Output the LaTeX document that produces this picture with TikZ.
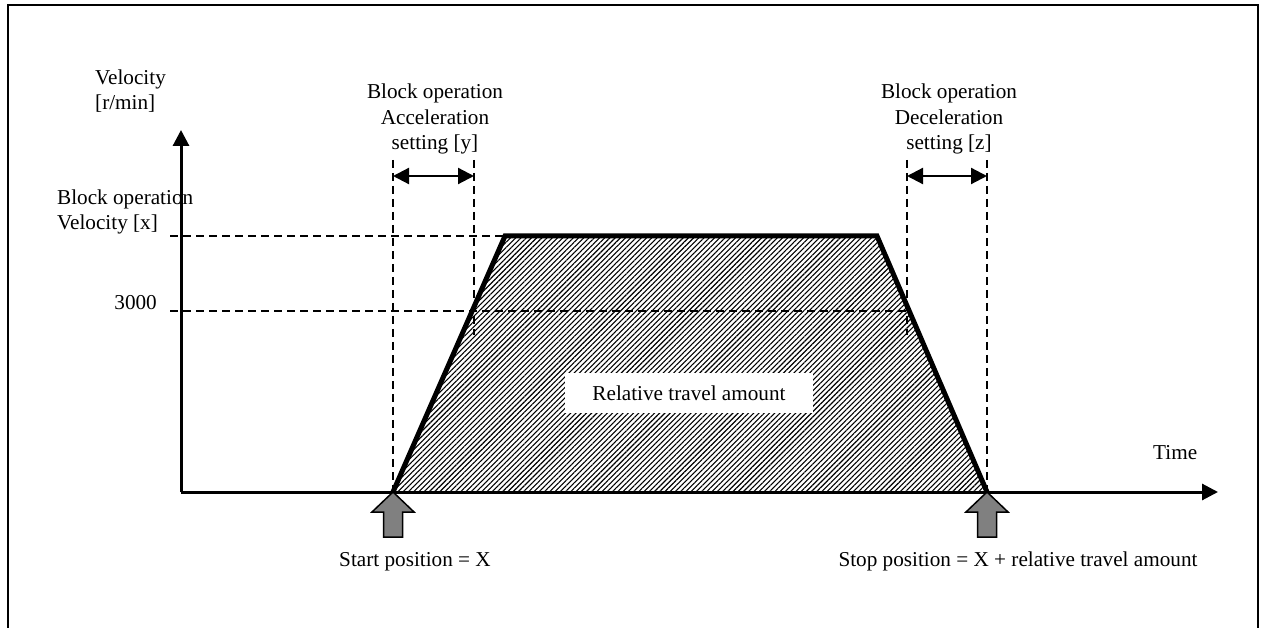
\documentclass[tikz,border=0pt]{standalone}
\usepackage{fontspec}
\setmainfont{Liberation Serif}
\usetikzlibrary{arrows.meta,patterns.meta}
\begin{document}
\begin{tikzpicture}[x=1pt,y=-1pt,
  lbl/.style={inner sep=0pt,font=\fontsize{21.2}{25.5}\selectfont},
  axis/.style={line width=3pt,-{Triangle[length=16pt,width=16pt]}},
  guide/.style={line width=1.6pt,dash pattern=on 8pt off 5pt},
  span/.style={line width=2.2pt,{Triangle[length=16pt,width=16pt]}-{Triangle[length=16pt,width=16pt]}},
  profile/.style={line width=5pt,line join=miter},
  hatch/.style={pattern={Lines[angle=45,distance=3.7pt,line width=1.1pt]}},
  marker/.style={fill=black!50,draw=black,line width=1.5pt,line join=miter}
]
\useasboundingbox (0,0) rectangle (1262,628);
% frame
\draw[line width=1.3pt] (8,628) -- (8,5) -- (1258,5) -- (1258,628);

% axes and profile corners
\coordinate (O) at (181,492);
\coordinate (ytip) at (181,130);
\coordinate (xtip) at (1218,492);
\coordinate (s) at (393,492);
\coordinate (a) at (505,236);
\coordinate (b) at (877,236);
\coordinate (e) at (987,492);

% travel area
\fill[hatch] (s) -- (a) -- (b) -- (e) -- cycle;
\node[lbl,fill=white,minimum width=248pt,minimum height=40pt] (area) at (689,393) {Relative travel amount};

% guide lines
\coordinate (hx) at (170,236);
\coordinate (h3) at (170,311);
\coordinate (h3e) at (907,311);
\coordinate (v1t) at (393,160);
\coordinate (v2t) at (474,160);
\coordinate (v2b) at (474,335);
\coordinate (v3t) at (907,160);
\coordinate (v3b) at (907,335);
\coordinate (v4t) at (987,160);
\draw[guide] (hx) -- (a);
\draw[guide] (h3) -- (h3e);
\draw[guide] (v1t) -- (s);
\draw[guide] (v2t) -- (v2b);
\draw[guide] (v3t) -- (v3b);
\draw[guide] (v4t) -- (e);

% acceleration / deceleration spans
\coordinate (acc1) at (393,176);
\coordinate (acc2) at (474,176);
\coordinate (dec1) at (907,176);
\coordinate (dec2) at (987,176);
\draw[span] (acc1) -- (acc2);
\draw[span] (dec1) -- (dec2);

% velocity profile
\draw[profile] (s) -- (a) -- (b) -- (e);

% axes
\draw[axis] (O) -- (ytip);
\draw[axis] (O) -- (xtip);

% start / stop markers
\draw[marker] (s) -- ++(21,20) -- ++(-11.5,0) -- ++(0,25) -- ++(-19,0) -- ++(0,-25) -- ++(-11.5,0) -- cycle;
\draw[marker] (e) -- ++(21,20) -- ++(-11.5,0) -- ++(0,25) -- ++(-19,0) -- ++(0,-25) -- ++(-11.5,0) -- cycle;

% labels (base anchor sits on the last line)
\node[lbl,anchor=base west,align=left] (vel) at (95,110) {Velocity\\{[r/min]}};
\node[lbl,anchor=base,align=center] (acc) at (435,150) {Block operation\\Acceleration\\setting [y]};
\node[lbl,anchor=base,align=center] (dec) at (949,150) {Block operation\\Deceleration\\setting [z]};
\node[lbl,anchor=base west,align=left] (vx) at (57,230) {Block operation\\Velocity [x]};
\node[lbl,anchor=base east] (v3000) at (157,310) {3000};
\node[lbl,anchor=base west] (time) at (1153,460) {Time};
\node[lbl,anchor=base] (start) at (415,566) {Start position = X};
\node[lbl,anchor=base] (stop) at (1018,566) {Stop position = X + relative travel amount};
\end{tikzpicture}
\end{document}
